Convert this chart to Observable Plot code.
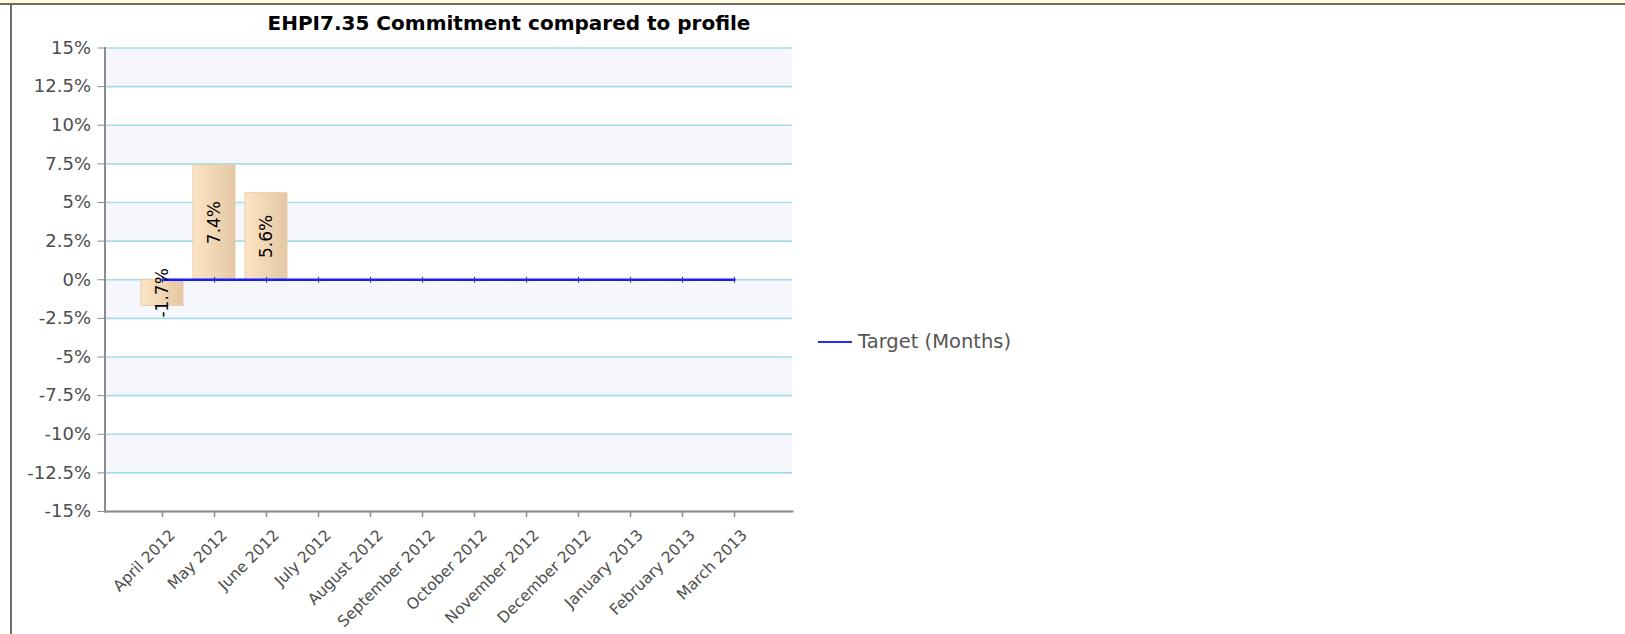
<!DOCTYPE html>
<html><head><meta charset="utf-8">
<script src="https://cdn.jsdelivr.net/npm/d3@7"></script>
<script src="https://cdn.jsdelivr.net/npm/@observablehq/plot@0.6"></script>
<style>
html,body{margin:0;padding:0;background:#fff;width:1625px;height:634px;overflow:hidden;font-family:"DejaVu Sans",sans-serif;}
#topband{position:absolute;left:0;top:0;width:1625px;height:3px;background:#fffbdd;border-bottom:2px solid #6d6d64;}
#leftborder{position:absolute;left:10px;top:5px;width:2px;height:629px;background:#6d6d64;}
#title{position:absolute;left:0;width:1018px;top:11px;line-height:24px;text-align:center;font-weight:bold;font-size:20px;color:#000;}
#chart{position:absolute;left:0;top:0;}
#legend{position:absolute;left:818px;top:331px;line-height:22px;display:flex;align-items:center;font-size:19.5px;color:#555;}
#legend .sw{display:inline-block;width:34px;height:2px;background:#2a2aff;margin-right:6px;}
</style>
</head><body>
<div id="topband"></div>
<div id="leftborder"></div>
<div id="title">EHPI7.35 Commitment compared to profile</div>
<div id="chart"></div>
<div id="legend"><span class="sw"></span><span>Target (Months)</span></div>
<script>
const months = ["April 2012","May 2012","June 2012","July 2012","August 2012","September 2012","October 2012","November 2012","December 2012","January 2013","February 2013","March 2013"];
const commitment = [-1.7, 7.4, 5.6, null, null, null, null, null, null, null, null, null];
const target = [0, 0, 0, 0, 0, 0, 0, 0, 0, 0, 0, 0];
const yTicks = [-15, -12.5, -10, -7.5, -5, -2.5, 0, 2.5, 5, 7.5, 10, 12.5, 15];

const table = months.map((m, i) => ({month: m, value: commitment[i], target: target[i]}));
const bars = table.filter(d => d.value != null);
const bands = yTicks.slice(0, -1).map((t, i) => ({y1: t, y2: yTicks[i + 1], shade: i % 2 === 1})).filter(b => b.shade);

const vtick = {draw(ctx, size) { ctx.moveTo(0, -3); ctx.lineTo(0, 3); }};

const chart = Plot.plot({
  width: 800, height: 634,
  marginLeft: 104.5, marginRight: 8, marginTop: 47.5, marginBottom: 123,
  style: {fontFamily: "DejaVu Sans", background: "transparent", overflow: "visible"},
  x: {type: "band", domain: months, paddingInner: 0.2, paddingOuter: 0.66, axis: null},
  y: {domain: [-15, 15], axis: null},
  marks: [
    Plot.rect(bands, {y1: "y1", y2: "y2", fill: "#f6f7fd"}),
    Plot.ruleY(yTicks, {stroke: "#a6dce7", strokeWidth: 1.6}),
    Plot.axisY({ticks: yTicks, tickFormat: d => d + "%", tickSize: 7, tickPadding: 7, fontSize: 18, stroke: "#8c8c8c", fill: "#4d4d4d", label: null}),
    Plot.frame({anchor: "left", stroke: "#8c8c8c", strokeWidth: 2}),
    Plot.frame({anchor: "bottom", stroke: "#8c8c8c", strokeWidth: 2}),
    Plot.axisX({tickSize: 6, fill: "none", stroke: "#8c8c8c", strokeWidth: 1.5, label: null}),
    Plot.text(months, {x: d => d, frameAnchor: "bottom", text: d => d, rotate: -45, textAnchor: "end", lineAnchor: "middle", dx: 10, dy: 21, fontSize: 15.5, fill: "#4d4d4d"}),
    Plot.barY(bars, {x: "month", y: "value", fill: "url(#barGrad)", stroke: "#e8cca6", strokeWidth: 1}),
    Plot.lineY(table, {x: "month", y: "target", stroke: "#1a1aff", strokeWidth: 2.5}),
    Plot.dot(table, {x: "month", y: "target", symbol: vtick, r: 3, stroke: "#3a3a9a", strokeWidth: 1}),
    Plot.text(bars, {x: "month", y: d => d.value / 2, text: d => d.value.toFixed(1) + "%", rotate: -90, fontSize: 17, fill: "#000"})
  ]
});
const defs = document.createElementNS("http://www.w3.org/2000/svg", "defs");
defs.innerHTML = '<linearGradient id="barGrad" x1="0" x2="1" y1="0" y2="0"><stop offset="0" stop-color="#fde4c4"/><stop offset="1" stop-color="#e4c8a5"/></linearGradient>';
chart.insertBefore(defs, chart.firstChild);
document.getElementById("chart").appendChild(chart);
</script>
</body></html>
